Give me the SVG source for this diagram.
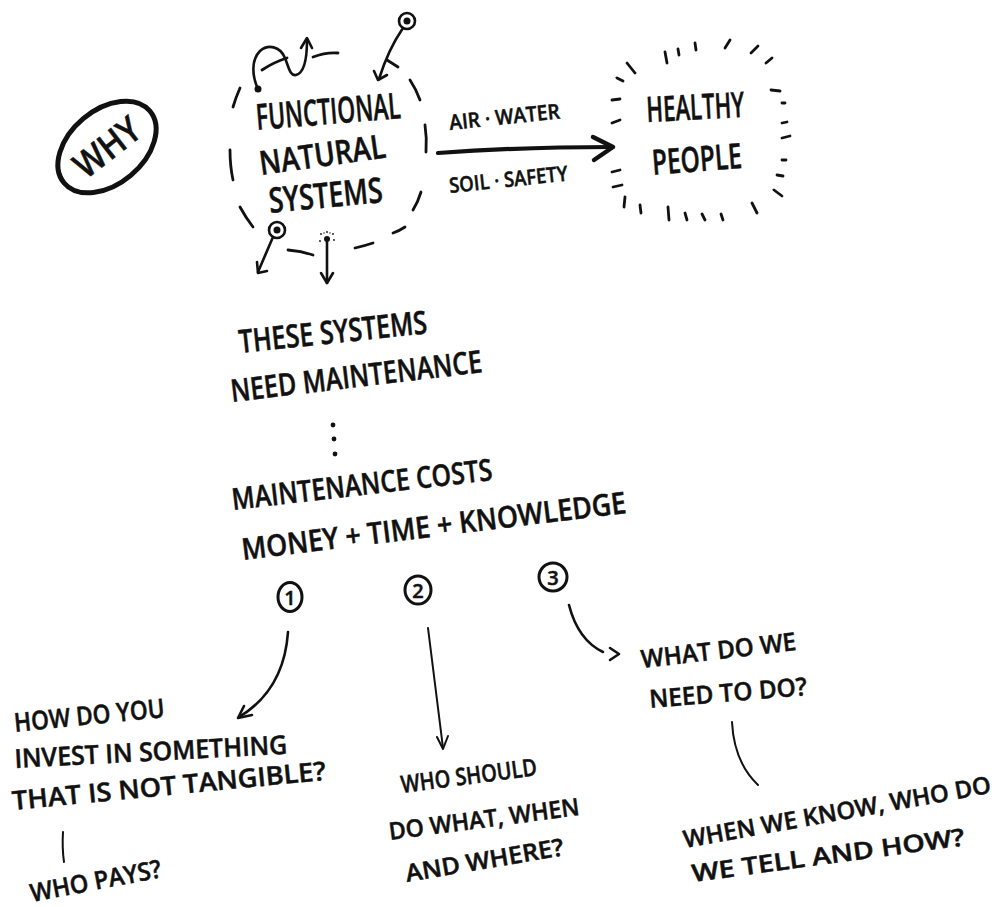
<svg xmlns="http://www.w3.org/2000/svg" width="997" height="907" viewBox="0 0 997 907">
  <style>
    .t { font-family: "Open Sans", "Liberation Sans", sans-serif; font-weight: 600; fill: #111; stroke: #111; stroke-width: 0.5; }
    .ln { fill: none; stroke: #111; stroke-linecap: round; stroke-linejoin: round; stroke-width: 2.6; }
    .thin { fill: none; stroke: #111; stroke-linecap: round; stroke-linejoin: round; stroke-width: 2; }
    .dash { fill: none; stroke: #111; stroke-linecap: round; stroke-width: 2.8; }
  </style>
  <rect width="997" height="907" fill="#fff"/>

  <!-- WHY badge -->
  <g id="why">
    <ellipse cx="107" cy="147" rx="56" ry="37" transform="rotate(-40 107 147)" fill="none" stroke="#111" stroke-width="5"/>
    <text class="t" x="107" y="160" font-size="36" text-anchor="middle" transform="rotate(-38 107 147)" textLength="74" lengthAdjust="spacingAndGlyphs">WHY</text>
  </g>

  <!-- Functional natural systems with its broken outline and small pins -->
  <g id="functional-natural-systems">
    <g class="dash">
      <path d="M262 70 Q274 62 287 58"/>
      <path d="M313 57 Q326 52 338 53"/>
      <path d="M387 60 L398 67"/>
      <path d="M410 80 Q416 89 420 100"/>
      <path d="M425 125 Q427 138 426 152"/>
      <path d="M421 192 Q418 202 413 210"/>
      <path d="M405 227 Q399 231 393 233"/>
      <path d="M355 248 Q364 246 373 243"/>
      <path d="M288 250 Q301 251 313 255"/>
      <path d="M240 207 Q246 218 253 227"/>
      <path d="M230 150 Q230 166 233 180"/>
      <path d="M233 107 Q236 97 240 88"/>
    </g>
    <!-- squiggle arrow -->
    <circle cx="258" cy="89" r="3.5" fill="#111"/>
    <path class="ln" d="M258 89 C252 76 251 60 260 51 C268 44 280 46 285 58 C289 68 290 76 296 75 C304 73 307 60 307 40"/>
    <path class="ln" d="M301 48 L307 38 L312 48"/>
    <!-- top-right pin -->
    <circle cx="407" cy="21" r="8" fill="none" stroke="#111" stroke-width="2.6"/>
    <circle cx="407" cy="21" r="3.5" fill="#111"/>
    <path class="ln" d="M403 28 Q388 50 379 79"/>
    <path class="ln" d="M374 71 L378 80 L387 75"/>
    <!-- bottom-left pin -->
    <circle cx="277" cy="230" r="8" fill="none" stroke="#111" stroke-width="2.6"/>
    <circle cx="277" cy="230" r="3.5" fill="#111"/>
    <path class="ln" d="M273 237 L258 272"/>
    <path class="ln" d="M257 262 L258 273 L267 271"/>
    <!-- bottom sparkle pin -->
    <circle cx="327" cy="239" r="3" fill="#111"/>
    <g fill="#111">
      <circle cx="321" cy="234" r="0.9"/><circle cx="327" cy="232" r="0.9"/><circle cx="333" cy="234" r="0.9"/>
      <circle cx="334" cy="240" r="0.9"/><circle cx="320" cy="241" r="0.9"/><circle cx="324" cy="233" r="0.7"/><circle cx="330" cy="233" r="0.7"/>
    </g>
    <path class="ln" d="M327 242 L327 283"/>
    <path class="ln" d="M321 273 L327 283 L333 273"/>
    <text class="t" x="257" y="130" font-size="36" transform="rotate(-4.7 257 130)" textLength="145" lengthAdjust="spacingAndGlyphs">FUNCTIONAL</text>
    <text class="t" x="261" y="175" font-size="33" transform="rotate(-8 261 175)" textLength="127" lengthAdjust="spacingAndGlyphs">NATURAL</text>
    <text class="t" x="270" y="213" font-size="35" transform="rotate(-5.5 270 213)" textLength="114" lengthAdjust="spacingAndGlyphs">SYSTEMS</text>
  </g>

  <!-- Healthy people burst -->
  <g id="healthy-people">
    <g class="dash">
      <path d="M665 52 L667 63"/><path d="M678 49 L679 55"/><path d="M695 43 L696 50"/>
      <path d="M730 40 L725 48"/><path d="M758 46 L751 53"/><path d="M772 58 L766 63"/>
      <path d="M627 63 L635 73"/><path d="M617 78 L623 81"/><path d="M612 100 L620 99"/>
      <path d="M612 123 L620 120"/><path d="M612 172 L620 170"/><path d="M613 187 L622 185"/>
      <path d="M625 197 L624 207"/><path d="M640 205 L641 213"/><path d="M668 207 L669 220"/>
      <path d="M685 213 L687 220"/><path d="M702 214 L705 220"/><path d="M721 214 L723 220"/>
      <path d="M752 203 L757 213"/><path d="M771 90 L780 91"/><path d="M782 103 L785 103"/>
      <path d="M782 123 L787 122"/><path d="M782 138 L790 136"/><path d="M782 160 L786 160"/>
      <path d="M777 175 L783 176"/><path d="M774 190 L782 196"/>
    </g>
    <text class="t" x="647" y="122" font-size="35" transform="rotate(-3 647 122)" textLength="98" lengthAdjust="spacingAndGlyphs">HEALTHY</text>
    <text class="t" x="653" y="175" font-size="35" transform="rotate(-4.5 653 175)" textLength="90" lengthAdjust="spacingAndGlyphs">PEOPLE</text>
  </g>

  <!-- Text blocks -->
  <g id="need-maintenance">
    <text class="t" x="240" y="353" font-size="32" transform="rotate(-6 240 353)" textLength="189" lengthAdjust="spacingAndGlyphs">THESE SYSTEMS</text>
    <text class="t" x="232" y="402" font-size="31" transform="rotate(-6.8 232 402)" textLength="253" lengthAdjust="spacingAndGlyphs">NEED MAINTENANCE</text>
  </g>
  <g id="maintenance-costs">
    <text class="t" x="233" y="510" font-size="30" transform="rotate(-6.6 233 510)" textLength="262" lengthAdjust="spacingAndGlyphs">MAINTENANCE COSTS</text>
    <text class="t" x="243" y="560" font-size="30" transform="rotate(-7 243 560)" textLength="387" lengthAdjust="spacingAndGlyphs">MONEY + TIME + KNOWLEDGE</text>
  </g>
  <g id="num-1">
    <ellipse cx="290" cy="597" rx="12" ry="14.5" fill="none" stroke="#111" stroke-width="3"/>
    <text class="t" x="290" y="605" font-size="20" text-anchor="middle">1</text>
  </g>
  <g id="num-2">
    <ellipse cx="418" cy="590" rx="13" ry="14" fill="none" stroke="#111" stroke-width="3"/>
    <text class="t" x="418" y="598" font-size="20" text-anchor="middle">2</text>
  </g>
  <g id="num-3">
    <ellipse cx="553" cy="577" rx="14" ry="14" fill="none" stroke="#111" stroke-width="3"/>
    <text class="t" x="553" y="585" font-size="20" text-anchor="middle">3</text>
  </g>
  <g id="invest">
    <text class="t" x="15" y="732" font-size="26" transform="rotate(-5.7 15 732)" textLength="151" lengthAdjust="spacingAndGlyphs">HOW DO YOU</text>
    <text class="t" x="15" y="768" font-size="26" transform="rotate(-3 15 768)" textLength="273" lengthAdjust="spacingAndGlyphs">INVEST IN SOMETHING</text>
    <text class="t" x="13" y="810" font-size="26" transform="rotate(-5.5 13 810)" textLength="315" lengthAdjust="spacingAndGlyphs">THAT IS NOT TANGIBLE?</text>
  </g>
  <g id="who-pays">
    <text class="t" x="32" y="902" font-size="25" transform="rotate(-10.8 32 902)" textLength="133" lengthAdjust="spacingAndGlyphs">WHO PAYS?</text>
  </g>
  <g id="who-should">
    <text class="t" x="402" y="793" font-size="24" transform="rotate(-7.5 402 793)" textLength="137" lengthAdjust="spacingAndGlyphs">WHO SHOULD</text>
    <text class="t" x="390" y="840" font-size="24" transform="rotate(-7.5 390 840)" textLength="192" lengthAdjust="spacingAndGlyphs">DO WHAT, WHEN</text>
    <text class="t" x="407" y="882" font-size="24" transform="rotate(-9.7 407 882)" textLength="160" lengthAdjust="spacingAndGlyphs">AND WHERE?</text>
  </g>
  <g id="what-do-we-need">
    <text class="t" x="642" y="668" font-size="25" transform="rotate(-6.6 642 668)" textLength="156" lengthAdjust="spacingAndGlyphs">WHAT DO WE</text>
    <text class="t" x="650" y="708" font-size="25" transform="rotate(-4.7 650 708)" textLength="158" lengthAdjust="spacingAndGlyphs">NEED TO DO?</text>
  </g>
  <g id="who-do-we-tell">
    <text class="t" x="685" y="848" font-size="24" transform="rotate(-10.2 685 848)" textLength="312" lengthAdjust="spacingAndGlyphs">WHEN WE KNOW, WHO DO</text>
    <text class="t" x="693" y="882" font-size="24" transform="rotate(-7.7 693 882)" textLength="275" lengthAdjust="spacingAndGlyphs">WE TELL AND HOW?</text>
  </g>

  <!-- Connectors -->
  <g id="connectors">
    <text class="t" x="450" y="130" font-size="21" transform="rotate(-6 450 130)" textLength="111" lengthAdjust="spacingAndGlyphs">AIR · WATER</text>
    <text class="t" x="450" y="193" font-size="21" transform="rotate(-6 450 193)" textLength="119" lengthAdjust="spacingAndGlyphs">SOIL · SAFETY</text>
    <path d="M438 153 Q520 147 612 147" fill="none" stroke="#111" stroke-width="4.2" stroke-linecap="round"/>
    <path d="M593 137 L613 147 L594 160" fill="none" stroke="#111" stroke-width="4.5" stroke-linecap="round" stroke-linejoin="round"/>
    <g fill="#111">
      <circle cx="333" cy="425" r="2.4"/><circle cx="334" cy="439" r="2.4"/><circle cx="335" cy="454" r="2.4"/>
    </g>
    <path class="ln" d="M288 632 Q284 690 239 717"/>
    <path class="ln" d="M244 706 L238 718 L252 715"/>
    <path class="thin" d="M428 628 L443 748"/>
    <path class="thin" d="M437 737 L443 749 L448 736"/>
    <path class="ln" d="M569 605 Q578 640 603 652"/>
    <path class="ln" d="M610 648 L619 654 L610 660"/>
    <path class="thin" d="M63 832 Q62 848 64 862"/>
    <path class="thin" d="M732 722 Q734 762 758 785"/>
  </g>
</svg>
